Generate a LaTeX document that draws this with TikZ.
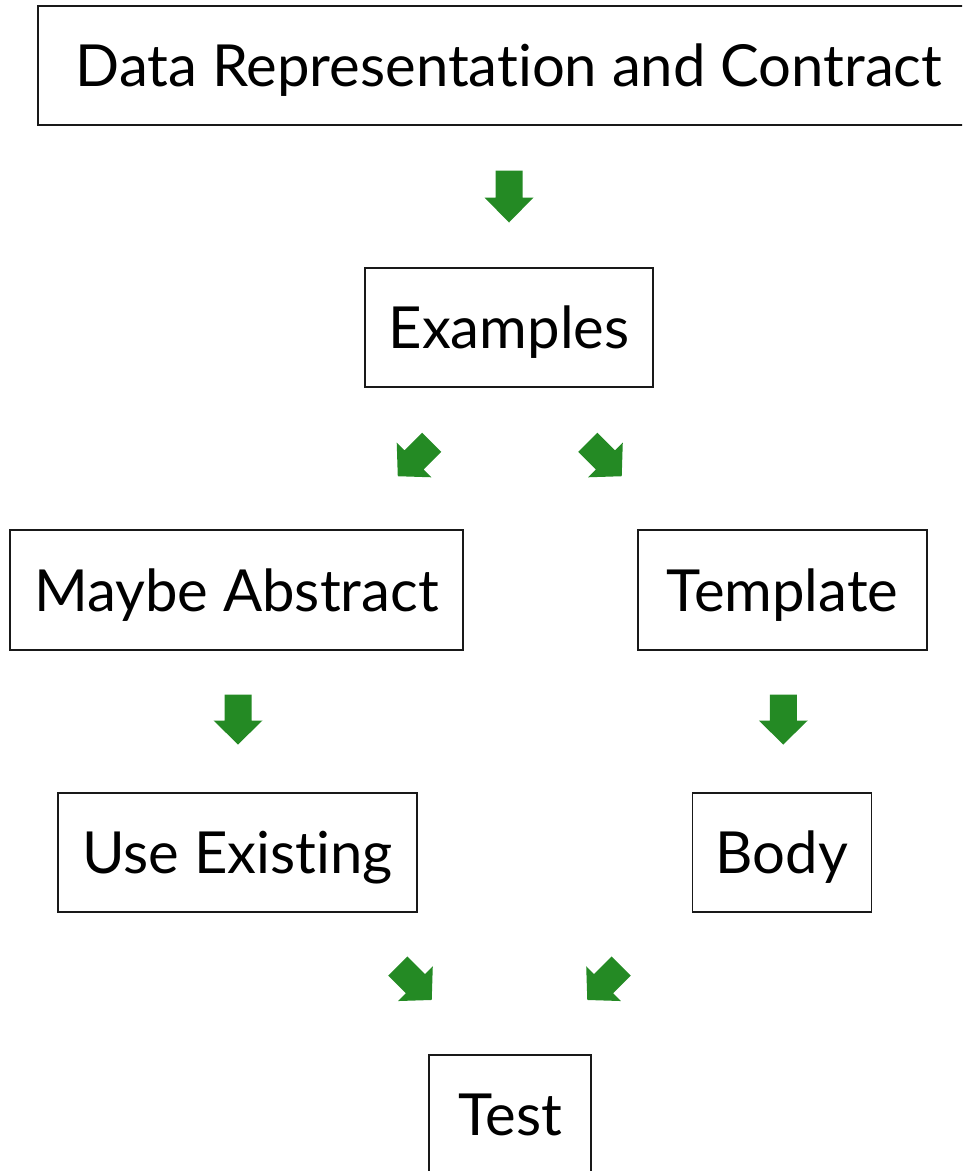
\documentclass[tikz,border=0pt]{standalone}
\usepackage{fontspec}
\setmainfont{Lato}[Ligatures=NoCommon]
\usetikzlibrary{calc}
\definecolor{arrowgreen}{RGB}{36,138,36}
\definecolor{boxline}{RGB}{25,25,25}
\tikzset{
  x=1pt, y=-1pt,
  stage/.style={draw=boxline, line width=1.6pt, inner sep=0pt, align=center,
    font=\fontsize{58}{64}\selectfont, text height=42pt, text depth=0pt},
  % block arrow pointing along +x, length #1, head length #2, centred on the pic origin
  pics/blockarrow/.style args={#1/#2}{code={
    \fill[arrowgreen]
      (-#1/2,-13.5) -- (#1/2-#2,-13.5) -- (#1/2-#2,-24.5) -- (#1/2,0)
      -- (#1/2-#2,24.5) -- (#1/2-#2,13.5) -- (-#1/2,13.5) -- cycle;
  }}
}
\begin{document}
\begin{tikzpicture}
\useasboundingbox (0,0) rectangle (962,1171);
\clip (0,0) rectangle (962,1171);

\node[stage, minimum width=942, minimum height=119] (data) at (509,65.5) {Data Representation and Contract};
\node[stage, minimum width=288, minimum height=119] (ex) at (509,327.5) {Examples};
\node[stage, minimum width=453, minimum height=120] (ma) at (236.5,590) {Maybe Abstract};
\node[stage, minimum width=289, minimum height=120] (tp) at (782.5,590) {Template};
\node[stage, minimum width=359, minimum height=119] (ue) at (237.5,852.5) {Use Existing};
\node[stage, minimum width=179, minimum height=119] (bd) at (782,852.5) {Body};
\node[stage, minimum width=162, minimum height=119] (ts) at (510,1114.5) {Test};

% step arrows between the stages
\pic[rotate=-90] (a1) at ($(data.south)!0.5!(ex.north)$) {blockarrow=52/25};
\pic[rotate=-135] (a2) at (414.75,459.25) {blockarrow=48/23};
\pic[rotate=-45] (a3) at (604.75,459.25) {blockarrow=48/23};
\pic[rotate=-90] (a4) at ($(ma.south)!0.5!(ue.north)+(1,-2)$) {blockarrow=50/24};
\pic[rotate=-90] (a5) at ($(tp.south)!0.5!(bd.north)+(1,-2)$) {blockarrow=50/24};
\pic[rotate=-45] (a6) at (414.75,983) {blockarrow=48/23};
\pic[rotate=-135] (a7) at (604.25,983) {blockarrow=48/23};
\end{tikzpicture}
\end{document}
